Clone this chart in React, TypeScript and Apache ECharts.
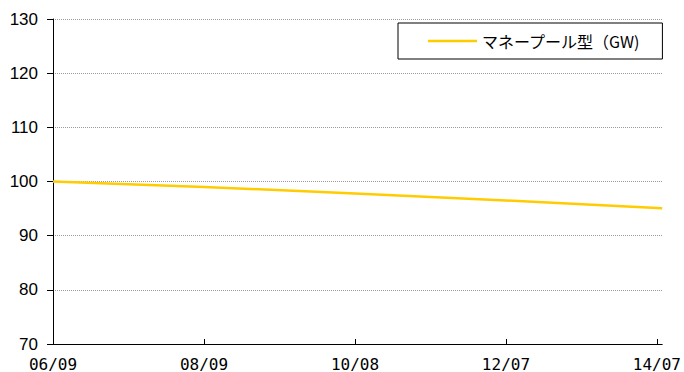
import React, { useEffect, useRef } from "react";
import * as echarts from "echarts";

const tickLabels = ["06/09", "08/09", "10/08", "12/07", "14/07"];
const positions = [0, 1, 2, 3, 4, 4.035];
const values = [100, 99.0, 97.8, 96.5, 95.1, 95.05];
const seriesName = "マネープール型（GW)";

export default function App() {
  const ref = useRef<HTMLDivElement>(null);
  useEffect(() => {
    if (!ref.current) return;
    const chart = echarts.init(ref.current, null, { renderer: "svg" });
    chart.setOption({
      animation: false,
      grid: { left: 53, right: 21, top: 19, bottom: 25, containLabel: false },
      legend: {
        show: true,
        left: 398,
        top: 23,
        orient: "horizontal",
        backgroundColor: "#fff",
        borderColor: "#000",
        borderWidth: 1,
        borderRadius: 0,
        padding: [10, 22, 10, 30],
        icon: "rect",
        itemWidth: 49,
        itemHeight: 2.5,
        itemGap: 5,
        textStyle: { fontFamily: "Noto Sans CJK JP", fontSize: 16, color: "#000" },
        data: [{ name: seriesName }],
      },
      xAxis: {
        type: "value",
        min: 0,
        max: 4.035,
        interval: 1,
        axisLine: { show: true, lineStyle: { color: "#000", width: 1 } },
        axisTick: { show: true, inside: true, length: 5, lineStyle: { color: "#000" }, customValues: [0, 1, 2, 3, 4] },
        axisLabel: {
          customValues: [0, 1, 2, 3, 4],
          formatter: (v: number) => tickLabels[Math.round(v)] ?? "",
          fontFamily: "DejaVu Sans Mono",
          fontSize: 16,
          color: "#000",
          margin: 12,
        },
        splitLine: { show: false },
      },
      yAxis: {
        type: "value",
        min: 70,
        max: 130,
        interval: 10,
        axisLine: { show: true, lineStyle: { color: "#000", width: 1 } },
        axisTick: { show: true, length: 6, lineStyle: { color: "#000" } },
        axisLabel: { fontFamily: "Liberation Sans", fontSize: 17, color: "#000", margin: 15 },
        splitLine: { show: true, lineStyle: { color: "#999", type: [1, 1], width: 1 } },
      },
      series: [
        {
          name: seriesName,
          type: "line",
          symbol: "none",
          smooth: false,
          lineStyle: { color: "#FFCC00", width: 2.5 },
          itemStyle: { color: "#FFCC00" },
          data: positions.map((p, i) => [p, values[i]]),
        },
      ],
    });
    return () => chart.dispose();
  }, []);
  return <div ref={ref} style={{ width: 684, height: 372, position: "absolute", left: 0, top: 0 }} />;
}
